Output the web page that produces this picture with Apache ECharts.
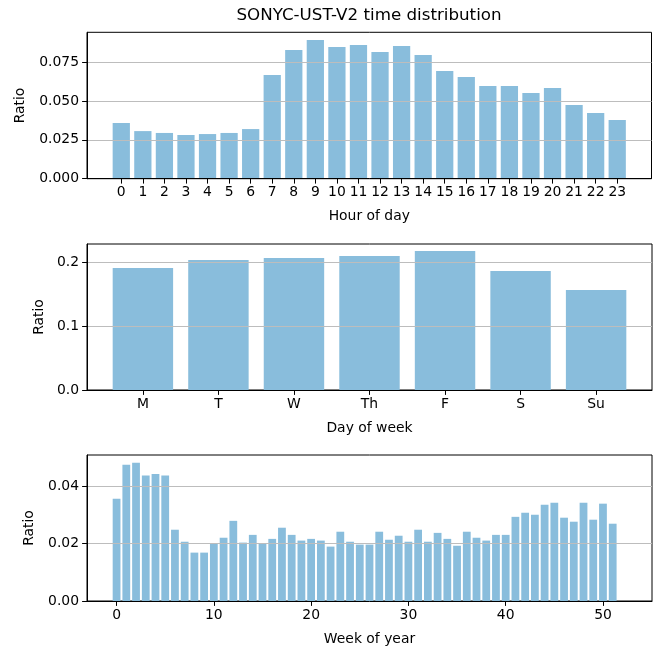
<!DOCTYPE html>
<html>
<head>
<meta charset="utf-8">
<script src="https://cdn.jsdelivr.net/npm/echarts@6/dist/echarts.min.js"></script>
<style>html,body{margin:0;padding:0;background:#fff}#c{width:654px;height:647px}</style>
</head>
<body>
<div id="c"></div>
<script>
const TITLE = 'SONYC-UST-V2 time distribution';
const hourValues = [0.0358,0.0306,0.0294,0.0281,0.0287,0.0294,0.0319,0.0667,0.0827,0.0891,0.0847,0.0859,0.0814,0.0853,0.0795,0.0692,0.0654,0.0596,0.0596,0.0551,0.0583,0.0474,0.0422,0.0377];
const dayLabels = ['M','T','W','Th','F','S','Su'];
const dayValues = [0.1906,0.2031,0.2063,0.2094,0.2172,0.1860,0.1560];
const weekValues = [0.0357,0.0476,0.0483,0.0438,0.0444,0.0438,0.0249,0.0207,0.0169,0.0169,
  0.0200,0.0221,0.0280,0.0204,0.0231,0.0200,0.0217,0.0256,0.0231,0.0211,
  0.0217,0.0211,0.0190,0.0242,0.0207,0.0197,0.0197,0.0242,0.0214,0.0228,
  0.0207,0.0249,0.0207,0.0238,0.0217,0.0193,0.0242,0.0221,0.0211,0.0231,
  0.0231,0.0294,0.0308,0.0301,0.0336,0.0343,0.0291,0.0277,0.0343,0.0284,
  0.0340,0.0270,0];
const hourTicks = hourValues.map((v,i)=>i);
const dayTicks = dayLabels.map((v,i)=>i);
const weekTicks = [0,10,20,30,40,50];
const hourYTicks = [0,0.025,0.05,0.075];
const dayYTicks = [0,0.1,0.2];
const weekYTicks = [0,0.02,0.04];

const FONT = 'DejaVu Sans';
const FS = 13.9;
const barColor = '#89bddc';

function pad(n){ // matplotlib-like margins (5%) for bars of width 0.8
  const lo = -0.4, hi = n - 1 + 0.4, m = (hi - lo) * 0.05;
  return [lo - m, hi + m];
}
function xAxis(idx, n, ticks, fmt, name){
  const r = pad(n);
  return {
    type:'value', gridIndex: idx, min: r[0], max: r[1], name: name, z: 3,
    nameLocation:'middle', nameGap: 31,
    nameTextStyle:{fontFamily:FONT,fontSize:FS,color:'#000'},
    axisLine:{show:true,onZero:false,lineStyle:{color:'#000',width:1}},
    axisTick:{show:true,length:4.9,lineStyle:{color:'#000',width:1},customValues:ticks},
    axisLabel:{show:true,margin:7,fontFamily:FONT,fontSize:FS,color:'#000',customValues:ticks,formatter:fmt},
    splitLine:{show:false}
  };
}
function yAxis(idx, max, ticks, dec, gap){
  return {
    type:'value', gridIndex: idx, min:0, max:max, name:'Ratio', z: 3,
    nameLocation:'middle', nameGap: gap, nameRotate: 90,
    nameTextStyle:{fontFamily:FONT,fontSize:FS,color:'#000'},
    axisLine:{show:true,onZero:false,lineStyle:{color:'#000',width:1}},
    axisTick:{show:true,length:4.9,lineStyle:{color:'#000',width:1},customValues:ticks},
    axisLabel:{show:true,margin:8,fontFamily:FONT,fontSize:FS,color:'#000',customValues:ticks,formatter:v=>v.toFixed(dec)},
    splitLine:{show:true,lineStyle:{color:'#bdbdbd',width:1.2}}
  };
}
const chart = echarts.init(document.getElementById('c'), null, {renderer:'canvas'});
chart.setOption({
  animation:false,
  backgroundColor:'#fff',
  graphic:[{type:'text',x:369,y:7,style:{text:TITLE,fontFamily:FONT,fontSize:16.7,fill:'#000',textAlign:'center',textVerticalAlign:'top'}}],
  grid:[
    {left:87,top:32.3,width:564.5,height:146.4,show:true,borderColor:'#000',borderWidth:1,backgroundColor:'transparent'},
    {left:87,top:244,width:565,height:146,show:true,borderColor:'#000',borderWidth:1,backgroundColor:'transparent'},
    {left:87,top:455,width:565,height:146.3,show:true,borderColor:'#000',borderWidth:1,backgroundColor:'transparent'}
  ],
  xAxis:[
    xAxis(0, hourValues.length, hourTicks, v=>String(v), 'Hour of day'),
    xAxis(1, dayValues.length, dayTicks, v=>dayLabels[v], 'Day of week'),
    xAxis(2, weekValues.length, weekTicks, v=>String(v), 'Week of year')
  ],
  yAxis:[
    yAxis(0, 0.0941, hourYTicks, 3, 60),
    yAxis(1, 0.228, dayYTicks, 1, 41),
    yAxis(2, 0.0510, weekYTicks, 2, 51)
  ],
  series:[
    {type:'bar',xAxisIndex:0,yAxisIndex:0,barWidth:'80%',itemStyle:{color:barColor},data:hourValues.map((v,i)=>[i,v])},
    {type:'bar',xAxisIndex:1,yAxisIndex:1,barWidth:'80%',itemStyle:{color:barColor},data:dayValues.map((v,i)=>[i,v])},
    {type:'bar',xAxisIndex:2,yAxisIndex:2,barWidth:'80%',itemStyle:{color:barColor},data:weekValues.map((v,i)=>[i,v])}
  ]
});
</script>
</body>
</html>
